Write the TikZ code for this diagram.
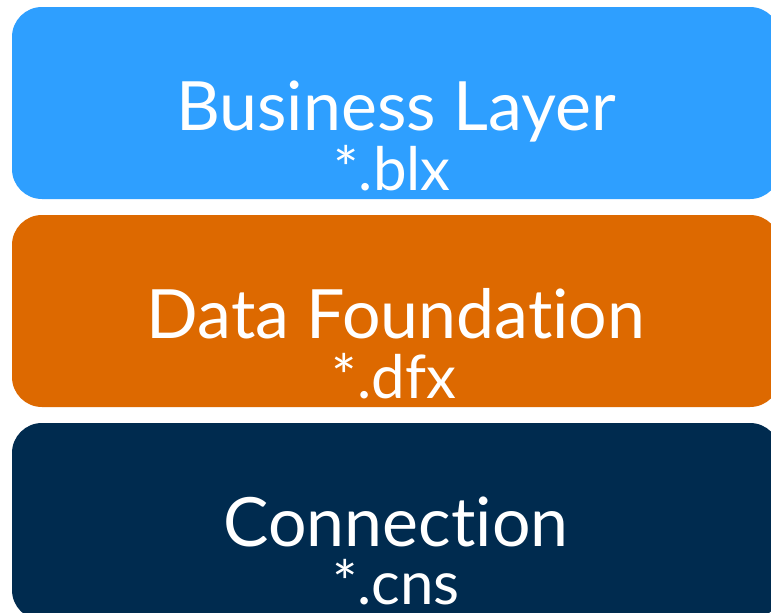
\documentclass[tikz,border=0pt]{standalone}
\usepackage{fontspec}
\setmainfont[Ligatures=NoCommon]{Lato}
\definecolor{blueb}{HTML}{2E9FFF}
\definecolor{orangeb}{HTML}{DD6900}
\definecolor{navyb}{HTML}{002B4F}
\tikzset{band/.style={fill=#1,draw=none,rounded corners=30pt},
 big/.style={text=white,font=\fontsize{68}{68}\selectfont,anchor=base,inner sep=0pt},
 small/.style={text=white,font=\fontsize{60}{60}\selectfont,anchor=base,inner sep=0pt}}
\begin{document}
\begin{tikzpicture}[x=1pt,y=-1pt]
\useasboundingbox (0,0) rectangle (771,613);
\clip (0,0) rectangle (771,613);
\fill[white] (0,0) rectangle (771,613);
\path[band=blueb] (12,7) rectangle (780,199);
\path[band=orangeb] (12,215) rectangle (780,407);
\path[band=navyb] (12,423) rectangle (780,620);
\node[big] (a) at (396,130) {Business Layer};
\node[small] (a2) at (392,190) {*.blx};
\node[big] (b) at (396,338) {Data Foundation};
\node[small] (b2) at (394,398) {*.dfx};
\node[big] (c) at (396,546) {Connection};
\node[small] (c2) at (396,604) {*.cns};
\end{tikzpicture}
\end{document}
